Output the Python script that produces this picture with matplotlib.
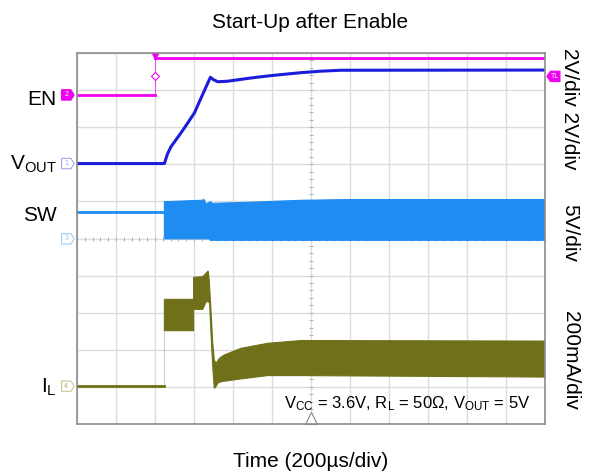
import numpy as np
import matplotlib
matplotlib.use("Agg")
import matplotlib.pyplot as plt
from matplotlib.patches import Polygon

plt.rcParams['font.family'] = ['Liberation Sans', 'DejaVu Sans']
plt.rcParams['mathtext.fontset'] = 'custom'
plt.rcParams['mathtext.rm'] = 'Liberation Sans'
plt.rcParams['mathtext.it'] = 'Liberation Sans:italic'

# horizontal: 12 div x 200us, EN edge at t = 0
t_min, t_max = -400, 2000
n_xdiv, n_ydiv = 12, 10

# channel ground position (div from bottom) and scale per div
en_offset, en_scale = 8.87, 2.0       # V/div
vout_offset, vout_scale = 7.02, 2.0   # V/div
sw_offset, sw_scale = 4.99, 5.0       # V/div
il_offset, il_scale = 1.02, 200.0     # mA/div
trig_level = 1.0                      # V on EN

# EN (V)
en_t = [-400, 0, 0, 2000]
en_v = [0.0, 0.0, 2.0, 2.0]

# VOUT (V)
vout_t = [-400, 48, 64, 82, 133, 168, 202, 236, 262, 284, 300, 322, 373, 441, 520, 595, 680, 749, 850, 954, 2000]
vout_v = [0.0, 0.0, 0.52, 0.91, 1.65, 2.19, 2.73, 3.53, 4.14, 4.65, 4.52, 4.41, 4.44, 4.54, 4.65, 4.74, 4.83, 4.90, 4.98, 5.03, 5.04]

# SW (V): level before switching, then envelope of the switching band
sw_pre_t = [-400, 48]
sw_pre_v = [3.66, 3.66]
sw_top_t = [48, 236, 253, 262, 284, 296, 500, 749, 1000, 2000]
sw_top_v = [5.01, 5.20, 5.28, 4.70, 5.01, 4.79, 4.95, 5.20, 5.30, 5.30]
sw_bot_t = [48, 280, 284, 2000]
sw_bot_v = [0.0, 0.0, -0.2, -0.2]

# IL (mA): baseline, then envelope of the ripple band
il_pre_t = [-400, 48]
il_pre_i = [0.0, 0.0]
il_top_t = [48, 198, 198, 245, 253, 273, 278, 287, 296, 304, 313, 330, 355, 441, 578, 749, 2000]
il_top_i = [468, 468, 587, 590, 599, 621, 572, 411, 233, 141, 123, 150, 168, 204, 231, 246, 243]
il_bot_t = [48, 198, 198, 245, 262, 273, 280, 287, 296, 304, 313, 321, 338, 441, 578, 749, 2000]
il_bot_i = [299, 299, 414, 414, 455, 455, 448, 287, 105, -12, -3, 15, 24, 39, 57, 57, 49]

c_en = '#f000f0'
c_vout = '#1c1cdc'
c_sw = '#1e8cf0'
c_il = '#70701a'


def to_div(vals, offset, scale):
    return [offset + v / scale for v in vals]


fig = plt.figure(figsize=(5.95, 4.76), dpi=100)
ax = fig.add_axes([77 / 595, 52 / 476, 468 / 595, 371 / 476])
ax.set_xlim(t_min, t_max)
ax.set_ylim(0, n_ydiv)
ax.set_xticks(np.linspace(t_min, t_max, n_xdiv + 1))
ax.set_yticks(np.arange(n_ydiv + 1))
ax.tick_params(length=0, labelbottom=False, labelleft=False)
ax.set_axisbelow(True)
ax.grid(color='#dcdcdc', lw=1)
for s in ax.spines.values():
    s.set_color('#8c8c8c')
    s.set_linewidth(1.2)

# minor ticks on the centre cross
t_mid = (t_min + t_max) / 2
xs = np.arange(t_min, t_max + 1, (t_max - t_min) / n_xdiv / 5)
ys = np.arange(0, n_ydiv + 0.01, 0.2)
ax.plot(xs, [n_ydiv / 2] * len(xs), ls='none', marker='|', ms=3, mew=0.7, color='#b0b0b0', zorder=0.6)
ax.plot([t_mid] * len(ys), ys, ls='none', marker='_', ms=3, mew=0.7, color='#b0b0b0', zorder=0.6)

# IL
ax.plot(il_pre_t, to_div(il_pre_i, il_offset, il_scale), color=c_il, lw=2)
ax.plot([il_top_t[0]] * 2, to_div([0, il_bot_i[0]], il_offset, il_scale), color=c_il, lw=0.6, alpha=0.4)
poly_t = il_top_t + il_bot_t[::-1]
poly_i = il_top_i + il_bot_i[::-1]
ax.fill(poly_t, to_div(poly_i, il_offset, il_scale), color=c_il, lw=0.8)

# SW
ax.plot(sw_pre_t, to_div(sw_pre_v, sw_offset, sw_scale), color=c_sw, lw=2)
poly_t = sw_top_t + sw_bot_t[::-1]
poly_v = sw_top_v + sw_bot_v[::-1]
ax.fill(poly_t, to_div(poly_v, sw_offset, sw_scale), color=c_sw, lw=0.8)

# VOUT
ax.plot(vout_t, to_div(vout_v, vout_offset, vout_scale), color=c_vout, lw=2.2)

# EN
en_div = to_div(en_v, en_offset, en_scale)
ax.plot(en_t[1:3], en_div[1:3], color=c_en, lw=0.8, alpha=0.6)
ax.plot(en_t[:2], en_div[:2], color=c_en, lw=2)
ax.plot(en_t[2:], en_div[2:], color=c_en, lw=2)
trig_div = en_offset + trig_level / en_scale
ax.plot(0, trig_div, marker='D', ms=4, mfc='white', mec=c_en, mew=0.8)
ax.plot(0, n_ydiv - 0.08, marker='v', ms=5, color=c_en, clip_on=False)
ax.plot(t_mid, 0.16, marker='^', ms=8, mfc='white', mec='#888888', mew=0.8, clip_on=False)

# channel tags on the left, trigger level tag on the right
ytr = ax.get_yaxis_transform()


def tag(y, txt, face, edge, tcol, x0, x1, tip):
    h = 0.14
    pts = [(x0, y - h), (x1, y - h), (tip, y), (x1, y + h), (x0, y + h)]
    ax.add_patch(Polygon(pts, closed=True, transform=ytr, fc=face, ec=edge, lw=0.8, clip_on=False))
    ax.text((x0 + x1) / 2, y, txt, transform=ytr, fontsize=5, color=tcol,
            ha='center', va='center', clip_on=False)


tag(en_offset, '2', c_en, c_en, 'white', -0.033, -0.013, -0.006)
tag(vout_offset, '1', 'white', '#a4a4f0', '#a4a4f0', -0.033, -0.013, -0.006)
tag(sw_offset, '3', 'white', '#9ccdf5', '#9ccdf5', -0.033, -0.013, -0.006)
tag(il_offset, '4', 'white', '#c8c88c', '#b0b070', -0.033, -0.013, -0.006)
tag(trig_div, 'TL', c_en, c_en, 'white', 1.032, 1.012, 1.004)

# trace names
ax.text(-0.043, 8.76, 'EN', transform=ytr, ha='right', va='center', fontsize=15)
ax.text(-0.043, 6.99, r'V$_{\mathrm{OUT}}$', transform=ytr, ha='right', va='center', fontsize=15)
ax.text(-0.043, 5.63, 'SW', transform=ytr, ha='right', va='center', fontsize=15)
ax.text(-0.043, 1.0, r'I$_{\mathrm{L}}$', transform=ytr, ha='right', va='center', fontsize=15)

ax.text(660, 0.43, r'V$_{\mathrm{CC}}$ = 3.6V, R$_{\mathrm{L}}$ = 50Ω, V$_{\mathrm{OUT}}$ = 5V',
        ha='left', va='baseline', fontsize=12)

# scale labels on the right
fig.text(570 / 595, 1 - 109 / 476, '2V/div 2V/div', rotation=270, ha='center', va='center', fontsize=15)
fig.text(570 / 595, 1 - 233.5 / 476, '5V/div', rotation=270, ha='center', va='center', fontsize=15)
fig.text(570 / 595, 1 - 360 / 476, '200mA/div', rotation=270, ha='center', va='center', fontsize=15)

fig.text(310 / 595, 1 - 27.7 / 476, 'Start-Up after Enable', ha='center', va='baseline', fontsize=15)
fig.text(311 / 595, 1 - 467 / 476, 'Time (200µs/div)', ha='center', va='baseline', fontsize=15)

fig.savefig('out.png', dpi=100)
